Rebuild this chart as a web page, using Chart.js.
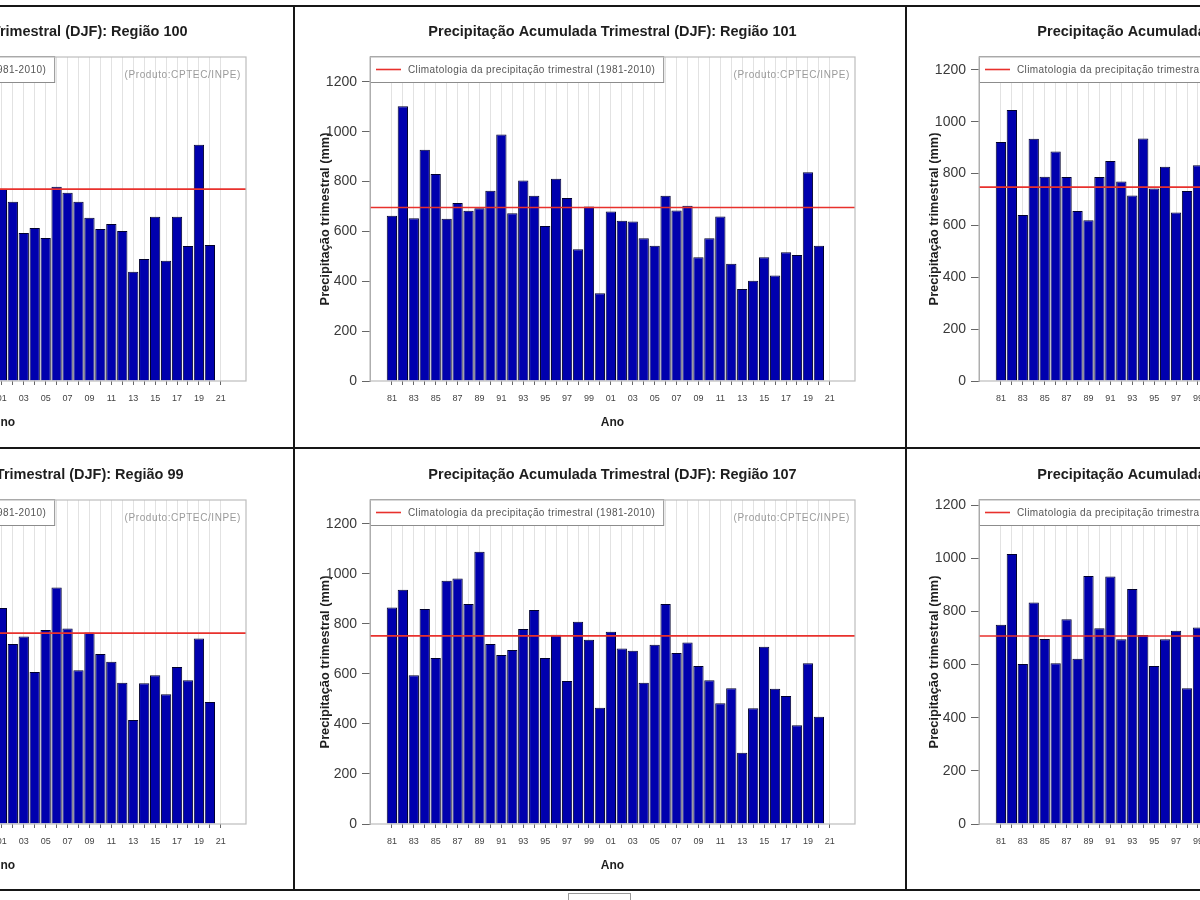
<!DOCTYPE html>
<html>
<head>
<meta charset="utf-8">
<script src="https://cdn.jsdelivr.net/npm/chart.js@4.4.1/dist/chart.umd.min.js"></script>
<style>
  html, body { margin: 0; padding: 0; background: #fff; }
  body { width: 1200px; height: 900px; position: relative; overflow: hidden; font-family: "Liberation Sans", Arial, sans-serif; }
  canvas { position: absolute; }
  .ln { position: absolute; background: #161616; z-index: 5; }
  .stub { position: absolute; left: 568px; top: 893px; width: 61px; height: 20px; border: 1px solid #9a9a9a; border-bottom: none; z-index: 5; }
</style>
</head>
<body>
<canvas id="c0" width="610" height="442" style="left:-314px;top:6px"></canvas>
<canvas id="c1" width="610" height="442" style="left:295px;top:6px"></canvas>
<canvas id="c2" width="610" height="442" style="left:904px;top:6px"></canvas>
<canvas id="c3" width="610" height="442" style="left:-314px;top:449px"></canvas>
<canvas id="c4" width="610" height="442" style="left:295px;top:449px"></canvas>
<canvas id="c5" width="610" height="442" style="left:904px;top:449px"></canvas>

<div class="ln" style="left:0;top:5px;width:1200px;height:2px"></div>
<div class="ln" style="left:0;top:447px;width:1200px;height:2px"></div>
<div class="ln" style="left:0;top:889px;width:1200px;height:2px"></div>
<div class="ln" style="left:293px;top:5px;width:2px;height:886px"></div>
<div class="ln" style="left:905px;top:5px;width:2px;height:886px"></div>
<div class="stub"></div>

<script>
// ---------- DATA ----------
const YEARS = [1981,1982,1983,1984,1985,1986,1987,1988,1989,1990,
               1991,1992,1993,1994,1995,1996,1997,1998,1999,2000,
               2001,2002,2003,2004,2005,2006,2007,2008,2009,2010,
               2011,2012,2013,2014,2015,2016,2017,2018,2019,2020];
const TICK_YEARS = [1981,1982,1983,1984,1985,1986,1987,1988,1989,1990,
                    1991,1992,1993,1994,1995,1996,1997,1998,1999,2000,
                    2001,2002,2003,2004,2005,2006,2007,2008,2009,2010,
                    2011,2012,2013,2014,2015,2016,2017,2018,2019,2020,2021];
const Y_TICKS = [0, 200, 400, 600, 800, 1000, 1200];

const TITLE_PREFIX = 'Precipitação Acumulada Trimestral (DJF): ';
const Y_TITLE = 'Precipitação trimestral (mm)';
const X_TITLE = 'Ano';
const LEGEND_LABEL = 'Climatologia da precipitação trimestral (1981-2010)';
const CREDIT = '(Produto:CPTEC/INPE)';

// Região 100 (only 2001-2020 visible in the picture)
const REGIAO_100 = [null,null,null,null,null,null,null,null,null,null,
                    null,null,null,null,null,null,null,null,null,null,
                    771,719,594,614,574,779,755,719,655,610,
                    630,602,438,490,659,482,659,542,948,546];
const CLIM_100 = 770;

// Região 101
const REGIAO_101 = [663,1102,653,928,831,651,714,683,693,763,
                    989,673,804,743,622,811,734,529,700,352,
                    680,643,640,573,543,743,684,703,497,573,
                    660,470,369,402,497,423,517,506,838,543];
const CLIM_101 = 696;

// top-right region (only 1981-1999 visible)
const REGIAO_TR = [922,1046,640,935,788,885,787,656,620,787,
                   849,770,716,936,743,827,650,733,832,null,
                   null,null,null,null,null,null,null,null,null,null,
                   null,null,null,null,null,null,null,null,null,null];
const CLIM_TR = 748;

// Região 99 (only 2001-2020 visible)
const REGIAO_99 = [null,null,null,null,null,null,null,null,null,null,
                   null,null,null,null,null,null,null,null,null,null,
                   863,719,749,608,775,945,781,615,765,679,
                   648,565,416,563,595,519,628,575,741,488];
const CLIM_99 = 763;

// Região 107
const REGIAO_107 = [865,936,595,859,663,972,981,879,1088,719,
                    675,695,779,855,663,756,572,808,736,465,
                    768,701,692,565,716,879,683,725,632,575,
                    483,543,285,463,708,541,512,395,643,429];
const CLIM_107 = 752;

// bottom-right region (only 1981-1999 visible)
const REGIAO_BR = [750,1017,602,834,697,605,771,622,934,737,
                   932,696,885,712,595,696,728,511,740,null,
                   null,null,null,null,null,null,null,null,null,null,
                   null,null,null,null,null,null,null,null,null,null];
const CLIM_BR = 708;

// ---------- CHART ----------
const X_MIN = 1979, X_MAX = 2023.3;
const FONT = '"Liberation Sans", Arial, Helvetica, sans-serif';
Chart.defaults.font.family = FONT;
Chart.defaults.color = '#333';

const decor = {
  id: 'decor',
  afterDatasetsDraw(chart) {
    const { ctx, chartArea: a } = chart;
    const line = chart.data.datasets.find(d => d.type === 'line');
    ctx.save();
    // legend box (inside plot, top-left)
    ctx.font = '10px ' + FONT;
    ctx.letterSpacing = '0.4px';
    const tw = ctx.measureText(line.label).width;
    const lx = a.left, ly = a.top - 1, lw = 38 + tw + 8, lh = 26;
    ctx.fillStyle = '#fff';
    ctx.fillRect(lx, ly, lw, lh);
    ctx.strokeStyle = '#8c8c8c';
    ctx.lineWidth = 1;
    ctx.strokeRect(lx + 0.5, ly + 0.5, lw, lh);
    ctx.strokeStyle = line.borderColor;
    ctx.lineWidth = 1.6;
    ctx.beginPath();
    ctx.moveTo(lx + 6, ly + 13.5);
    ctx.lineTo(lx + 31, ly + 13.5);
    ctx.stroke();
    ctx.fillStyle = '#555';
    ctx.textBaseline = 'middle';
    ctx.textAlign = 'left';
    ctx.fillText(line.label, lx + 38, ly + 14);
    // credit
    ctx.letterSpacing = '0.6px';
    ctx.fillStyle = '#9a9a9a';
    ctx.textAlign = 'right';
    ctx.fillText(CREDIT, a.right - 5, a.top + 18);
    ctx.letterSpacing = '0px';
    // plot box
    ctx.strokeStyle = '#bdbdbd';
    ctx.lineWidth = 1.2;
    ctx.strokeRect(a.left, a.top, a.right - a.left, a.bottom - a.top);
    ctx.restore();
  }
};

function makeChart(id, region, values, clim, ymax) {
  new Chart(document.getElementById(id), {
    type: 'bar',
    data: {
      datasets: [
        {
          type: 'line',
          label: LEGEND_LABEL,
          data: [{ x: X_MIN, y: clim }, { x: X_MAX, y: clim }],
          borderColor: '#e8312c',
          borderWidth: 1.6,
          pointRadius: 0,
          order: 0
        },
        {
          type: 'bar',
          label: 'Precipitação',
          data: YEARS.map((yr, i) => ({ x: yr, y: values[i] })),
          backgroundColor: '#0000ae',
          borderColor: '#00002e',
          borderWidth: 1,
          barPercentage: 0.94,
          categoryPercentage: 1,
          order: 1
        }
      ]
    },
    options: {
      responsive: false,
      animation: false,
      events: [],
      layout: { padding: { left: 0, right: 50, top: 0, bottom: 0 } },
      plugins: {
        legend: { display: false },
        tooltip: { enabled: false },
        title: {
          display: true,
          fullSize: false,
          text: TITLE_PREFIX + region,
          color: '#1e1e1e',
          font: { size: 14.5, weight: 'bold', family: FONT },
          padding: { top: 17.5, bottom: 16.1 }
        }
      },
      scales: {
        x: {
          type: 'linear',
          min: X_MIN,
          max: X_MAX,
          offset: false,
          afterBuildTicks: s => { s.ticks = TICK_YEARS.map(v => ({ value: v })); },
          afterFit: s => { s.height = 67; },
          grid: {
            offset: false,
            color: '#e2e2e2',
            lineWidth: 1,
            drawTicks: true,
            tickLength: 4,
            tickColor: '#666'
          },
          border: { display: false },
          ticks: {
            autoSkip: false,
            maxRotation: 0,
            minRotation: 0,
            padding: 8,
            color: '#444',
            font: { size: 9 },
            callback: v => (v % 2 === 1 ? String(v % 100).padStart(2, '0') : '')
          },
          title: {
            display: true,
            text: X_TITLE,
            color: '#1e1e1e',
            font: { size: 12, weight: 'bold' },
            padding: { top: 0, bottom: 18 }
          }
        },
        y: {
          min: 0,
          max: ymax,
          afterBuildTicks: s => { s.ticks = Y_TICKS.map(v => ({ value: v })); },
          afterFit: s => { s.width = 75; },
          grid: {
            drawOnChartArea: false,
            drawTicks: true,
            tickLength: 8,
            tickColor: '#666'
          },
          border: { display: true, color: '#999' },
          ticks: {
            padding: 5,
            color: '#3a3a3a',
            font: { size: 14 },
            callback: v => String(v)
          },
          title: {
            display: true,
            text: Y_TITLE,
            color: '#1e1e1e',
            font: { size: 12.8, weight: 'bold' },
            padding: { top: 22.3, bottom: 0 }
          }
        }
      }
    },
    plugins: [decor]
  });
}

makeChart('c0', 'Região 100', REGIAO_100, CLIM_100, 1300);
makeChart('c1', 'Região 101', REGIAO_101, CLIM_101, 1300);
makeChart('c2', 'Região 102', REGIAO_TR, CLIM_TR, 1250);
makeChart('c3', 'Região 99', REGIAO_99, CLIM_99, 1295);
makeChart('c4', 'Região 107', REGIAO_107, CLIM_107, 1295);
makeChart('c5', 'Região 108', REGIAO_BR, CLIM_BR, 1220);
</script>
</body>
</html>
